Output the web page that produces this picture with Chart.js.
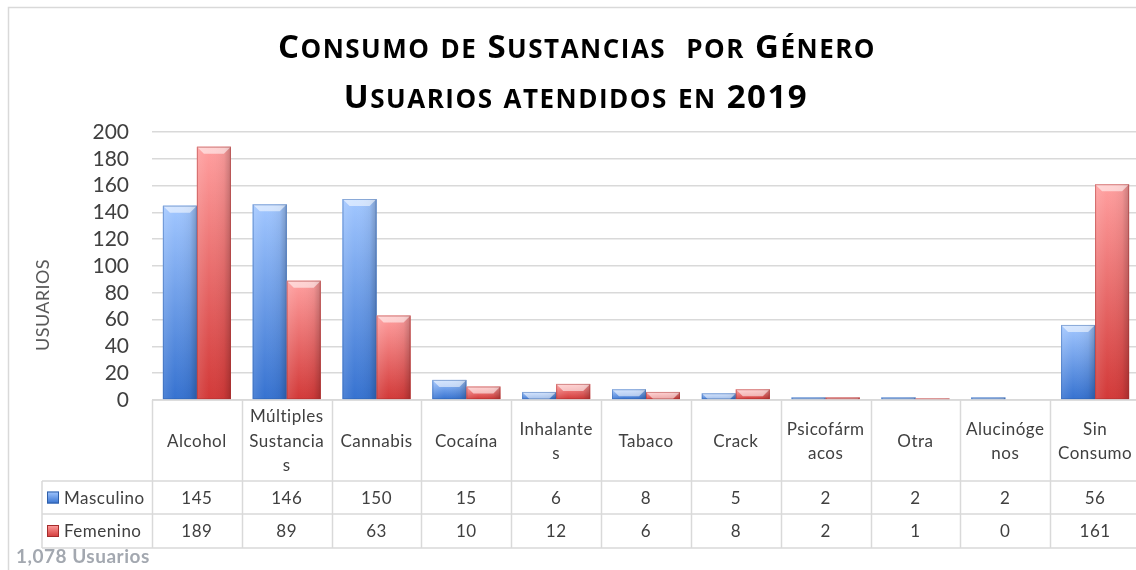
<!DOCTYPE html>
<html>
<head>
<meta charset="utf-8">
<script src="https://cdn.jsdelivr.net/npm/chart.js@4.4.1/dist/chart.umd.min.js"></script>
<style>
  html, body { margin: 0; padding: 0; background: #fff; overflow: hidden; }
  #wrap { width: 1142px; height: 570px; }
</style>
</head>
<body>
<div id="wrap"><canvas id="chart"></canvas></div>
<script>
// categorias (lineas como en la tabla de Excel)
const categories = [
  ['Alcohol'], ['Múltiples', 'Sustancia', 's'], ['Cannabis'], ['Cocaína'],
  ['Inhalante', 's'], ['Tabaco'], ['Crack'], ['Psicofárm', 'acos'],
  ['Otra'], ['Alucinóge', 'nos'], ['Sin', 'Consumo']
];
const masculino = [145, 146, 150, 15, 6, 8, 5, 2, 2, 2, 56];
const femenino = [189, 89, 63, 10, 12, 6, 8, 2, 1, 0, 161];
const seriesNames = ['Masculino', 'Femenino'];
const yMin = 0, yMax = 200, yStep = 20;
const titleLines = ['Consumo de Sustancias  por Género', 'Usuarios atendidos en 2019'];
const yTitle = 'USUARIOS';

const FONT = 'Lato, "Open Sans", sans-serif';
const TITLE_FONT = '"Open Sans", Lato, sans-serif';
const TXT = '#404040';
const LINE = '#d9d9d9';

const colors = [
  { top: '#a2c7ff', bottom: '#3672d0', mid: '#6d9fe8', edge: '#2f5fa8' },
  { top: '#ff9f9f', bottom: '#d23938', mid: '#ea6c6b', edge: '#a52c2c' }
];

// texto en versalitas dibujado a mano
function drawSmallCaps(ctx, text, cx, baseline, big, small) {
  ctx.letterSpacing = '1.5px';
  const parts = [];
  for (const ch of text) {
    const isLower = ch !== ch.toUpperCase();
    parts.push({ ch: ch.toUpperCase(), size: isLower ? small : big });
  }
  let total = 0;
  parts.forEach(p => {
    ctx.font = `bold ${p.size}px ${TITLE_FONT}`;
    p.w = ctx.measureText(p.ch).width;
    total += p.w;
  });
  let x = cx - total / 2;
  ctx.textBaseline = 'alphabetic';
  ctx.textAlign = 'left';
  parts.forEach(p => {
    ctx.font = `bold ${p.size}px ${TITLE_FONT}`;
    ctx.fillText(p.ch, x, baseline);
    x += p.w;
  });
  ctx.letterSpacing = '0px';
}

const framePlugin = {
  id: 'frame',
  beforeDraw(chart) {
    const ctx = chart.ctx;
    ctx.save();
    ctx.strokeStyle = LINE;
    ctx.lineWidth = 1.5;
    ctx.strokeRect(8.5, 7.5, chart.width + 20, chart.height + 20);
    ctx.restore();
  }
};

const barLookPlugin = {
  id: 'barLook',
  afterDatasetsDraw(chart) {
    const ctx = chart.ctx;
    ctx.save();
    chart.data.datasets.forEach((ds, di) => {
      const c = colors[di];
      chart.getDatasetMeta(di).data.forEach(bar => {
        const { x, y, base, width } = bar.getProps(['x', 'y', 'base', 'width'], true);
        const h = base - y;
        if (h <= 0.5) return;
        const l = x - width / 2, r = x + width / 2;
        let g = ctx.createLinearGradient(0, y, 0, base);
        g.addColorStop(0, c.top);
        g.addColorStop(1, c.bottom);
        ctx.fillStyle = g;
        ctx.fillRect(l, y, width, h);
        g = ctx.createLinearGradient(l, 0, r, 0);
        g.addColorStop(0, 'rgba(255,255,255,0.12)');
        g.addColorStop(0.35, 'rgba(255,255,255,0)');
        g.addColorStop(0.8, 'rgba(0,0,0,0.05)');
        g.addColorStop(1, 'rgba(0,0,0,0.22)');
        ctx.fillStyle = g;
        ctx.fillRect(l, y, width, h);
        // bisel superior
        const b = Math.min(7, h);
        ctx.beginPath();
        ctx.moveTo(l, y);
        ctx.lineTo(r, y);
        ctx.lineTo(r - b, y + b);
        ctx.lineTo(l + b, y + b);
        ctx.closePath();
        ctx.fillStyle = 'rgba(255,255,255,0.55)';
        ctx.fill();
        ctx.strokeStyle = c.edge;
        ctx.globalAlpha = 0.45;
        ctx.lineWidth = 1;
        ctx.strokeRect(l + 0.5, y + 0.5, width - 1, h - 1);
        ctx.globalAlpha = 1;
      });
    });
    ctx.restore();
  }
};

const tablePlugin = {
  id: 'dataTable',
  afterDraw(chart) {
    const ctx = chart.ctx;
    const xs = chart.scales.x;
    const n = categories.length;
    const cw = (xs.right - xs.left) / n;
    const top = chart.chartArea.bottom, hdrBottom = 481, r1 = 514, r2 = 548;
    const legLeft = 42;
    ctx.save();

    // titulo
    ctx.fillStyle = '#000';
    drawSmallCaps(ctx, titleLines[0], 577, 58, 33, 26);
    drawSmallCaps(ctx, titleLines[1], 576, 108, 33, 26);

    // titulo del eje Y
    ctx.save();
    ctx.translate(43, 305);
    ctx.rotate(-Math.PI / 2);
    ctx.fillStyle = '#595959';
    ctx.font = `18px ${FONT}`;
    ctx.letterSpacing = '0.4px';
    ctx.textAlign = 'center';
    ctx.textBaseline = 'middle';
    ctx.fillText(yTitle, 0, 0);
    ctx.restore();

    // lineas de la tabla
    ctx.strokeStyle = LINE;
    ctx.lineWidth = 1.5;
    ctx.beginPath();
    ctx.moveTo(xs.left, top); ctx.lineTo(xs.right + 5, top);
    [hdrBottom, r1, r2].forEach(yy => { ctx.moveTo(legLeft, yy); ctx.lineTo(xs.right + 5, yy); });
    for (let i = 0; i <= n; i++) {
      const xx = Math.round(xs.left + i * cw) + 0.5;
      ctx.moveTo(xx, top); ctx.lineTo(xx, r2);
    }
    ctx.moveTo(legLeft, hdrBottom); ctx.lineTo(legLeft, r2);
    ctx.stroke();

    // textos
    ctx.fillStyle = TXT;
    ctx.textAlign = 'center';
    ctx.textBaseline = 'middle';
    ctx.font = `17px ${FONT}`;
    ctx.letterSpacing = '0.5px';
    const lh = 24.5;
    const hdrMid = (top + hdrBottom) / 2 + 1;
    categories.forEach((lines, i) => {
      const cx = xs.getPixelForValue(i);
      const y0 = hdrMid - (lines.length - 1) * lh / 2;
      lines.forEach((t, k) => ctx.fillText(t, cx, y0 + k * lh));
      ctx.fillText(String(masculino[i]), cx, (hdrBottom + r1) / 2 + 1);
      ctx.fillText(String(femenino[i]), cx, (r1 + r2) / 2 + 1);
    });

    // claves de la leyenda
    [[hdrBottom, r1], [r1, r2]].forEach(([a, b], si) => {
      const my = (a + b) / 2;
      const c = colors[si];
      const g = ctx.createLinearGradient(0, my - 6, 0, my + 6);
      g.addColorStop(0, c.top); g.addColorStop(1, c.bottom);
      ctx.fillStyle = g;
      ctx.fillRect(47, my - 6, 12, 12);
      ctx.strokeStyle = c.edge;
      ctx.lineWidth = 1;
      ctx.strokeRect(47.5, my - 5.5, 11, 11);
      ctx.fillStyle = TXT;
      ctx.textAlign = 'left';
      ctx.fillText(seriesNames[si], 64, my + 1);
    });

    // total
    const total = masculino.concat(femenino).reduce((s, v) => s + v, 0);
    ctx.fillStyle = '#a3a8b0';
    ctx.font = `bold 19px ${FONT}`;
    ctx.letterSpacing = '0.5px';
    ctx.textAlign = 'left';
    ctx.fillText(total.toLocaleString('en-US') + ' Usuarios', 16, 557);
    ctx.restore();
  }
};

new Chart(document.getElementById('chart'), {
  type: 'bar',
  data: {
    labels: categories,
    datasets: [
      { label: seriesNames[0], data: masculino, backgroundColor: colors[0].mid },
      { label: seriesNames[1], data: femenino, backgroundColor: colors[1].mid }
    ]
  },
  options: {
    responsive: true,
    maintainAspectRatio: false,
    animation: false,
    layout: { padding: { left: 32, top: 132, right: 2, bottom: 170 } },
    categoryPercentage: 0.757,
    barPercentage: 1,
    plugins: { legend: { display: false }, tooltip: { enabled: false } },
    scales: {
      x: { display: false },
      y: {
        min: yMin, max: yMax,
        ticks: { stepSize: yStep, autoSkip: false, color: TXT, padding: 23, font: { family: FONT, size: 21 } },
        grid: { color: LINE, lineWidth: 1.5, drawTicks: false },
        border: { display: false },
        title: { display: false },
        afterFit(scale) { scale.width = 120; }
      }
    }
  },
  plugins: [framePlugin, barLookPlugin, tablePlugin]
});
</script>
</body>
</html>
